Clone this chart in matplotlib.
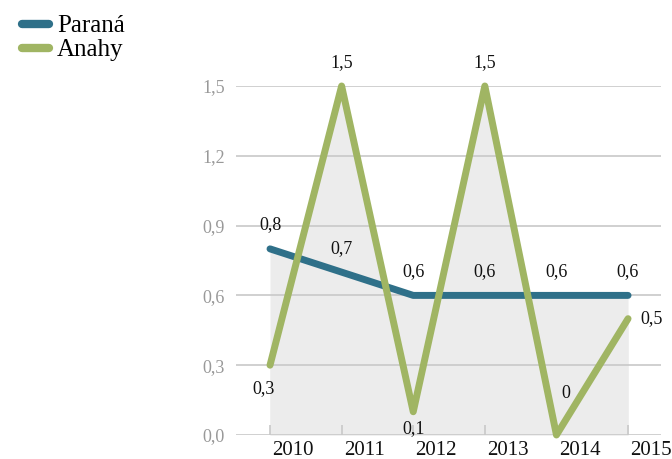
import matplotlib.pyplot as plt
import matplotlib.transforms as mtransforms
import numpy as np

years = ['2010', '2011', '2012', '2013', '2014', '2015']
parana = [0.8, 0.7, 0.6, 0.6, 0.6, 0.6]
anahy = [0.3, 1.5, 0.1, 1.5, 0.0, 0.5]
yticks = [0.0, 0.3, 0.6, 0.9, 1.2, 1.5]

c_parana = '#2f7089'
c_anahy = '#a0b563'
serif = ['Liberation Serif', 'DejaVu Serif']

plt.rcParams['font.family'] = serif

fig = plt.figure(figsize=(6.72, 4.59), dpi=100)
ax = fig.add_axes([236 / 672, 1 - 435 / 459, 425 / 672, 349 / 459])

x = np.arange(len(years))

# gray area under both series (union)
ax.fill_between(x, 0, parana, color='#ececec', lw=0, zorder=1)
ax.fill_between(x, 0, anahy, color='#ececec', lw=0, zorder=1)

for v in yticks:
    ax.axhline(v, color='#c8c8c8', lw=1.2, zorder=2)

ax.plot(x, parana, color=c_parana, lw=5, solid_capstyle='round',
        solid_joinstyle='round', zorder=3, clip_on=False, label='Paraná')
ax.plot(x, anahy, color=c_anahy, lw=5, solid_capstyle='round',
        solid_joinstyle='round', zorder=4, clip_on=False, label='Anahy')

def fmt(v):
    if v == 0:
        return '0'
    return ('%g' % v).replace('.', ',')

for i, v in enumerate(parana):
    ax.annotate(fmt(v), (i, v), xytext=(0, 11), textcoords='offset points',
                ha='center', va='bottom', fontsize=13, color='#111111', zorder=5)

anahy_offsets = [(-5, -11, 'top'), (0, 11, 'bottom'), (0, -6, 'top'),
                 (0, 11, 'bottom'), (7, 24, 'bottom'), (9, 0, 'center')]
for i, v in enumerate(anahy):
    dx, dy, va = anahy_offsets[i]
    ha = 'left' if i == 5 else 'center'
    ax.annotate(fmt(v), (i, v), xytext=(dx, dy), textcoords='offset points',
                ha=ha, va=va, fontsize=13, color='#111111', zorder=5)

ax.set_xlim(-0.475, 5.46)
ax.set_ylim(0, 1.5)
ax.set_xticks(x)
ax.set_xticklabels(years, fontsize=15, color='#111111')
ax.set_yticks(yticks)
ax.set_yticklabels([('%.1f' % v).replace('.', ',') for v in yticks],
                   fontsize=13, color='#999999')
ax.tick_params(axis='x', direction='in', length=7, color='#c8c8c8', width=1.2, pad=4)
ax.tick_params(axis='y', length=0, pad=8)
shift = mtransforms.ScaledTranslation(23 / 100, 0, fig.dpi_scale_trans)
for lbl in ax.get_xticklabels():
    lbl.set_transform(lbl.get_transform() + shift)
for s in ax.spines.values():
    s.set_visible(False)
ax.patch.set_alpha(0)

leg = fig.legend(loc='upper left', bbox_to_anchor=(0.01, 1.0), frameon=False,
                 fontsize=18, handlelength=1.1, handletextpad=0.3,
                 labelspacing=0.05, borderaxespad=0.2)
for h in leg.get_lines():
    h.set_linewidth(6)
    h.set_solid_capstyle('round')

fig.savefig('out.png', dpi=100)
